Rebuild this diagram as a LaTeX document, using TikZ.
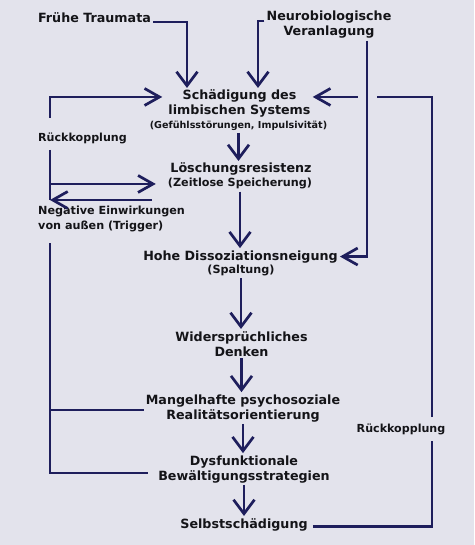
\documentclass[tikz,border=0pt]{standalone}
\usepackage{fontspec}
\setmainfont{DejaVu Sans}
\usetikzlibrary{arrows.meta}
\definecolor{bg}{HTML}{E3E3EC}
\definecolor{navy}{HTML}{1E1E5C}
\definecolor{ink}{HTML}{141418}
\begin{document}
\begin{tikzpicture}[x=1pt,y=-1pt,
  txt/.style={font=\bfseries\fontsize{12.7}{15}\selectfont, text=ink, inner sep=2pt, align=center, anchor=base},
  sub/.style={font=\bfseries\fontsize{11.2}{13}\selectfont, text=ink, inner sep=2pt, anchor=base},
  small/.style={font=\bfseries\fontsize{9.6}{11}\selectfont, text=ink, inner sep=2pt, anchor=base},
  lab/.style={font=\bfseries\fontsize{11.1}{13}\selectfont, text=ink, inner sep=0pt},
  trig/.style={font=\bfseries\fontsize{11.2}{14}\selectfont, text=ink, inner sep=0pt, align=left, anchor=base west},
  line/.style={draw=navy, line width=2.7pt},
  conn/.style={line, -{Straight Barb[length=14pt,width=21pt]}},
  sconn/.style={line, -{Straight Barb[length=15pt,width=17pt]}}
]
\fill[bg] (0,0) rectangle (474,545);
\useasboundingbox (0,0) rectangle (474,545);

% nodes (multi-line nodes are placed by the baseline of their last line)
\node[txt] (ft) at (94.5,22.5) {Frühe Traumata};
\node[txt] (nv) at (329,36) {Neurobiologische\\Veranlagung};
\node[txt] (sd) at (239.5,115) {Schädigung des\\limbischen Systems};
\node[small] (sdsub) at (238.5,128.5) {(Gefühlsstörungen, Impulsivität)};
\node[txt] (ls) at (241,173) {Löschungsresistenz};
\node[sub] (lssub) at (240,187) {(Zeitlose Speicherung)};
\node[txt] (hd) at (240.5,260) {Hohe Dissoziationsneigung};
\node[sub] (hdsub) at (241,273.5) {(Spaltung)};
\node[txt] (wd) at (241.5,356) {Widersprüchliches\\Denken};
\node[txt] (mp) at (243,419) {Mangelhafte psychosoziale\\Realitätsorientierung};
\node[txt] (dy) at (244,480) {Dysfunktionale\\Bewältigungsstrategien};
\node[txt] (ss) at (244,528) {Selbstschädigung};
\node[lab, anchor=base west] (rkl) at (38,142) {Rückkopplung};
\node[trig] (trg) at (38,229) {Negative Einwirkungen\\von außen (Trigger)};
\node[lab, anchor=base, inner ysep=6pt] (rkr) at (401,432) {Rückkopplung};

% helper coordinates
\coordinate (ftc) at (187,22);
\coordinate (nvc) at (258,21);
\coordinate (vx) at (367,0);
\coordinate (rx) at (432,0);
\coordinate (lt) at (50,118);
\coordinate (lm1) at (50,150);
\coordinate (lm2) at (50,200);
\coordinate (trgA) at (152,200);
\coordinate (lb1) at (50,243);

% top inputs
\draw[conn] (ft.east |- ftc) -- (ftc) -- (ftc |- sd.north);
\draw[conn] (nv.west |- nvc) -- (nvc) -- (nvc |- sd.north);

% main chain
\draw[conn] (sdsub.south) -- (sdsub.south |- ls.north);
\draw[conn] (lssub.south) -- (lssub.south |- hd.north);
\draw[conn] (hdsub.south) -- (hdsub.south |- wd.north);
\draw[conn] (wd.south) -- (wd.south |- mp.north);
\draw[conn] (mp.south) -- (mp.south |- dy.north);
\draw[conn] (dy.south) -- (dy.south |- ss.north);

% right feedback
\draw[line] ([xshift=3pt,yshift=-2pt]ss.east) -| (rkr.south -| rx);
\draw[sconn] (rkr.north -| rx) |- ([yshift=7pt]sd.east);
\draw[sconn, preaction={draw=bg, line width=19pt, -}] (nv.south -| vx) |- (hd.east);

% left feedback
\draw[sconn] (lt) |- ([xshift=-4pt,yshift=7pt]sd.west);
\draw[line] (lm1) -- (lm2);
\draw[sconn, shorten >=10pt] (lm1 |- lssub.west) -- (lssub.west);
\draw[sconn] (trgA) -- (lm2);
\draw[line] (lb1) |- ([xshift=-8pt,yshift=-4pt]dy.west);
\draw[line] ([yshift=-2pt]mp.west) -- ([yshift=-2pt]mp.west -| lb1);
\end{tikzpicture}
\end{document}
